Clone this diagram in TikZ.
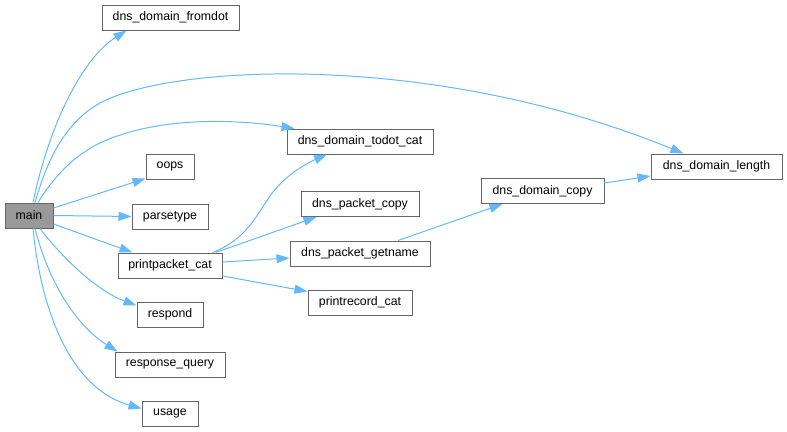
\documentclass[tikz,border=0pt]{standalone}
\usepackage{fontspec}
\setmainfont{Liberation Sans}
\usetikzlibrary{arrows.meta}
\definecolor{edgeblue}{HTML}{63B8FF}
\definecolor{boxgray}{HTML}{666666}
\definecolor{maingray}{HTML}{999999}
\begin{document}
\begin{tikzpicture}[x=1pt, y=-1pt,
    fn/.style={draw=boxgray, line width=1pt, minimum height=25pt, inner sep=0pt,
      font=\fontsize{12.3}{14}\selectfont},
    call/.style={draw=edgeblue, line width=1pt, -{Triangle[length=13pt,width=9pt]}}]
          \useasboundingbox (0,0) rectangle (787,431);
          \node[fn, fill=maingray, minimum width=48pt] (main) at (29,215.5) {main};
          \node[fn, minimum width=137pt] (fromdot) at (170.5,17.5) {dns\_domain\_fromdot};
          \node[fn, minimum width=146pt] (todot) at (360,141.5) {dns\_domain\_todot\_cat};
          \node[fn, minimum width=48pt] (oops) at (170,166.5) {oops};
          \node[fn, minimum width=76pt] (parsetype) at (170,216.5) {parsetype};
          \node[fn, minimum width=104pt] (printpacket) at (170,265.5) {printpacket\_cat};
          \node[fn, minimum width=66pt] (respond) at (170,314.5) {respond};
          \node[fn, minimum width=110pt] (query) at (170,364.5) {response\_query};
          \node[fn, minimum width=56pt] (usage) at (170,413.5) {usage};
          \node[fn, minimum width=118pt] (pcopy) at (360,204) {dns\_packet\_copy};
          \node[fn, minimum width=140pt] (getname) at (360,253.5) {dns\_packet\_getname};
          \node[fn, minimum width=104pt] (printrecord) at (360,302.5) {printrecord\_cat};
          \node[fn, minimum width=123pt] (dcopy) at (542.5,191) {dns\_domain\_copy};
          \node[fn, minimum width=131pt] (length) at (716.5,166.5) {dns\_domain\_length};
          % calls of main
          \draw[call] ([xshift=4pt]main.north) .. controls (48,130) and (80,60) .. ([xshift=25pt]fromdot.south west);
          \draw[call] ([xshift=6pt]main.north) .. controls (50,150) and (70,120) .. (100,103)
            .. controls (170,65) and (430,50) .. ([xshift=-33pt]length.north);
          \draw[call] ([xshift=9pt]main.north) .. controls (55,175) and (75,155) .. (100,143)
            .. controls (160,115) and (240,120) .. ([xshift=8pt]todot.north west);
          \draw[call] ([yshift=7.5pt]main.east) -- ([yshift=1pt]oops.south west);
          \draw[call] (main.east) -- (parsetype.west);
          \draw[call] ([yshift=-8.5pt]main.east) -- ([xshift=15pt]printpacket.north west);
          \draw[call] ([xshift=11pt]main.south) .. controls (60,255) and (95,290) .. ([yshift=-4pt]respond.north west);
          \draw[call] ([xshift=6pt]main.south) .. controls (48,280) and (75,325) .. ([xshift=3pt]query.north west);
          \draw[call] ([xshift=4pt]main.south) .. controls (42,320) and (75,390) .. ([yshift=5pt]usage.west);
          % calls of printpacket_cat
          \draw[call] ([xshift=-10pt]printpacket.north east) .. controls (245,240) and (255,218) .. (270,196)
            .. controls (283,177) and (305,164) .. ([xshift=-33pt]todot.south);
          \draw[call] ([xshift=-7pt]printpacket.north east) -- ([xshift=16pt]pcopy.south west);
          \draw[call] ([yshift=3.5pt]printpacket.east) -- ([yshift=-4.5pt]getname.west);
          \draw[call] ([yshift=-10.5pt]printpacket.east) -- ([yshift=-2pt]printrecord.north west);
          % further calls
          \draw[call] ([xshift=38pt]getname.north) -- ([xshift=22pt]dcopy.south west);
          \draw[call] ([yshift=8pt]dcopy.east) -- ([yshift=-9.5pt]length.west);
        \end{tikzpicture}
\end{document}
